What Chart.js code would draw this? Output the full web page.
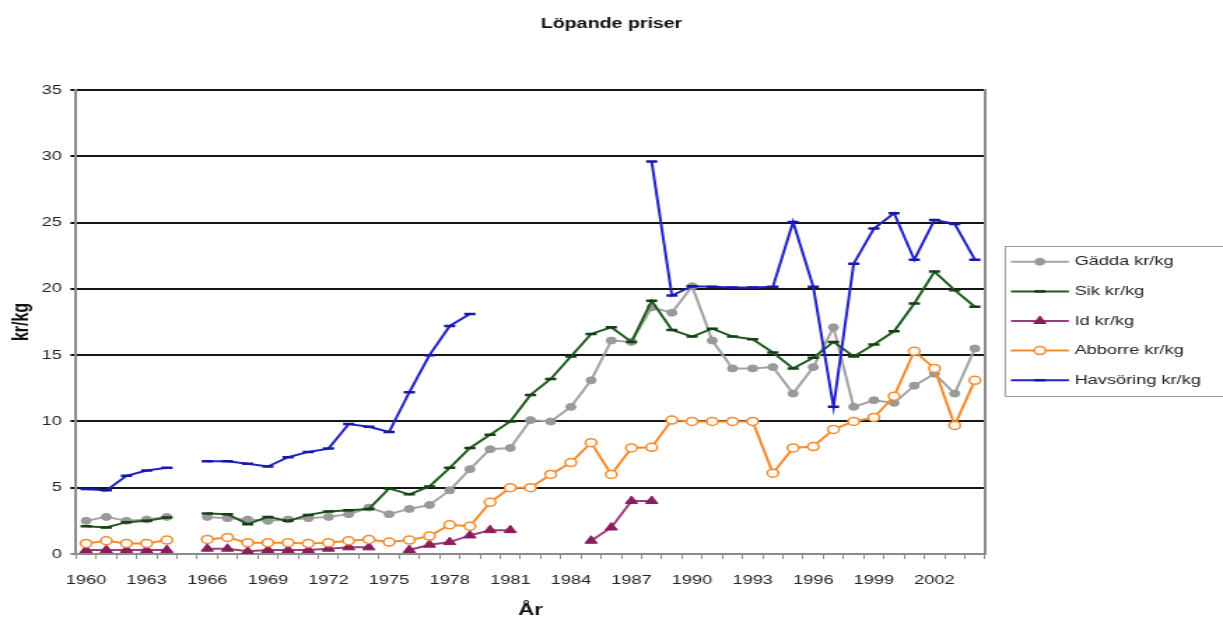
<!DOCTYPE html>
<html lang="sv">
<head>
<meta charset="utf-8">
<title>Löpande priser</title>
<script src="https://cdn.jsdelivr.net/npm/chart.js@4/dist/chart.umd.min.js"></script>
<style>
  html, body { margin: 0; padding: 0; background: #fff; overflow: hidden; }
  /* the chart is laid out narrow and widened horizontally */
  #wrap { width: 874px; height: 621px; transform: scaleX(1.39931); transform-origin: 0 0; }
  canvas { display: block; }
</style>
</head>
<body>
<div id="wrap"><canvas id="c" width="874" height="621"></canvas></div>
<script>
// Years (categories)
const years = ['1960','1961','1962','1963','1964','1965','1966','1967','1968','1969',
               '1970','1971','1972','1973','1974','1975','1976','1977','1978','1979',
               '1980','1981','1982','1983','1984','1985','1986','1987','1988','1989',
               '1990','1991','1992','1993','1994','1995','1996','1997','1998','1999',
               '2000','2001','2002','2003','2004'];

// Years printed under the x axis
const shownYears = ['1960','1963','1966','1969','1972','1975','1978','1981',
                    '1984','1987','1990','1993','1996','1999','2002'];

// Prices, kr/kg (null = no value that year)
const gadda = [2.5, 2.8, 2.5, 2.6, 2.8, null, 2.8, 2.7, 2.6, 2.5,
               2.6, 2.7, 2.8, 3.0, 3.5, 3.0, 3.4, 3.7, 4.8, 6.4,
               7.9, 8.0, 10.1, 10.0, 11.1, 13.1, 16.1, 16.0, 18.6, 18.2,
               20.2, 16.1, 14.0, 14.0, 14.1, 12.1, 14.1, 17.1, 11.1, 11.6,
               11.4, 12.7, 13.6, 12.1, 15.5];

const sik = [2.1, 2.0, 2.4, 2.5, 2.75, null, 3.05, 3.0, 2.25, 2.8,
             2.5, 2.95, 3.2, 3.3, 3.4, 4.95, 4.5, 5.1, 6.5, 8.0,
             9.0, 10.0, 12.0, 13.2, 14.9, 16.6, 17.1, 16.0, 19.1, 16.9,
             16.4, 17.0, 16.4, 16.2, 15.2, 14.0, 14.8, 16.0, 14.9, 15.8,
             16.8, 18.9, 21.3, 19.9, 18.65];

const id = [0.3, 0.3, 0.3, 0.3, 0.3, null, 0.4, 0.4, 0.2, 0.3,
            0.3, 0.3, 0.4, 0.5, 0.5, null, 0.3, 0.7, 0.9, 1.4,
            1.8, 1.8, null, null, null, 1.0, 2.0, 4.0, 4.0, null,
            null, null, null, null, null, null, null, null, null, null,
            null, null, null, null, null];

const abborre = [0.8, 1.0, 0.8, 0.8, 1.05, null, 1.1, 1.25, 0.85, 0.85,
                 0.85, 0.8, 0.85, 1.0, 1.1, 0.9, 1.05, 1.35, 2.2, 2.1,
                 3.9, 5.0, 5.0, 6.0, 6.9, 8.4, 6.0, 8.0, 8.05, 10.1,
                 10.0, 10.0, 10.0, 10.0, 6.1, 8.0, 8.1, 9.4, 10.0, 10.3,
                 11.9, 15.3, 14.0, 9.7, 13.1];

const havsoring = [4.9, 4.8, 5.9, 6.3, 6.5, null, 7.0, 7.0, 6.8, 6.6,
                   7.3, 7.7, 7.95, 9.8, 9.6, 9.2, 12.2, 15.0, 17.2, 18.1,
                   null, null, null, null, null, null, null, null, 29.6, 19.5,
                   20.2, 20.15, 20.1, 20.1, 20.15, 25.05, 20.15, 11.1, 21.9, 24.55,
                   25.7, 22.2, 25.2, 24.9, 22.2];

const FONT = '"Liberation Sans", Arial, Helvetica, sans-serif';
Chart.defaults.font.family = FONT;
Chart.defaults.font.size = 13;
Chart.defaults.color = '#222';

function drawMarker(ctx, ds, x, y) {
  const opts = { pointStyle: ds.pointStyle, radius: ds.pointRadius, borderWidth: ds.pointBorderWidth, rotation: 0 };
  if (Chart.helpers && Chart.helpers.drawPoint) {
    Chart.helpers.drawPoint(ctx, opts, x, y);
    return;
  }
  const r = ds.pointRadius;
  ctx.beginPath();
  if (ds.pointStyle === 'line') {
    ctx.moveTo(x - r, y); ctx.lineTo(x + r, y); ctx.stroke(); return;
  } else if (ds.pointStyle === 'triangle') {
    ctx.moveTo(x, y - r); ctx.lineTo(x + r * 0.866, y + r / 2); ctx.lineTo(x - r * 0.866, y + r / 2); ctx.closePath();
  } else {
    ctx.arc(x, y, r, 0, Math.PI * 2);
  }
  ctx.fill(); ctx.stroke();
}

// boxed legend to the right of the plot
const legendBox = {
  id: 'legendBox',
  afterDraw(chart) {
    const { ctx, chartArea: a } = chart;
    const left = a.right + 14;
    const rowH = 29.6;
    const n = chart.data.datasets.length;
    const midY = (a.top + a.bottom) / 2 - 1;
    const boxH = 150;
    const top = midY - boxH / 2;
    const firstY = midY - rowH * (n - 1) / 2;
    ctx.save();
    ctx.strokeStyle = '#9a9a9a';
    ctx.lineWidth = 1;
    ctx.strokeRect(left + 0.5, top + 0.5, chart.width - left + 20, boxH);
    chart.data.datasets.forEach((ds, i) => {
      const y = firstY + i * rowH;
      const x0 = left + 4.5, x1 = left + 46;
      ctx.strokeStyle = ds.borderColor;
      ctx.lineWidth = ds.borderWidth;
      ctx.beginPath(); ctx.moveTo(x0, y); ctx.lineTo(x1, y); ctx.stroke();
      ctx.fillStyle = ds.pointBackgroundColor;
      ctx.strokeStyle = ds.pointBorderColor;
      ctx.lineWidth = ds.pointBorderWidth;
      drawMarker(ctx, ds, (x0 + x1) / 2, y);
      ctx.fillStyle = '#222';
      ctx.font = '13px ' + FONT;
      ctx.textAlign = 'left';
      ctx.textBaseline = 'middle';
      ctx.fillText(ds.label, left + 50, y);
    });
    ctx.restore();
  }
};

function series(label, data, color, style, order) {
  return Object.assign({
    label, data,
    borderColor: color,
    borderWidth: 2,
    backgroundColor: color,
    spanGaps: false,
    tension: 0,
    order
  }, style);
}

new Chart(document.getElementById('c'), {
  type: 'line',
  data: {
    labels: years,
    datasets: [
      series('Gädda kr/kg', gadda, '#a3a3a3',
        { pointStyle: 'circle', pointRadius: 3.5, pointBackgroundColor: '#999999', pointBorderColor: '#999999', pointBorderWidth: 1 }, 5),
      series('Sik kr/kg', sik, '#1f5c1f',
        { pointStyle: 'line', pointRadius: 4, pointBackgroundColor: '#1f5c1f', pointBorderColor: '#163f16', pointBorderWidth: 2.5 }, 4),
      series('Id kr/kg', id, '#9b3f7b',
        { pointStyle: 'triangle', pointRadius: 5, pointBackgroundColor: '#8a1d5e', pointBorderColor: '#8a1d5e', pointBorderWidth: 1 }, 3),
      series('Abborre kr/kg', abborre, '#f58a2e',
        { pointStyle: 'circle', pointRadius: 4, pointBackgroundColor: '#ffffff', pointBorderColor: '#f58a2e', pointBorderWidth: 1.5 }, 2),
      series('Havsöring kr/kg', havsoring, '#2222c8',
        { pointStyle: 'line', pointRadius: 4, pointBackgroundColor: '#1818a8', pointBorderColor: '#1818a8', pointBorderWidth: 2.5 }, 1)
    ]
  },
  options: {
    responsive: false,
    animation: false,
    devicePixelRatio: 1,
    layout: { padding: { left: 0, right: 0, top: 0, bottom: 0 } },
    plugins: {
      legend: { display: false },
      tooltip: { enabled: false },
      title: {
        display: true,
        text: 'Löpande priser',
        color: '#111',
        font: { size: 14, weight: 'bold' },
        padding: { top: 16, bottom: 57.2 }
      }
    },
    scales: {
      x: {
        type: 'category',
        offset: true,
        grid: { display: true, drawOnChartArea: false, drawTicks: true, tickLength: 5, offset: true, color: '#8c8c8c', lineWidth: 1 },
        border: { display: true, color: '#8c8c8c', width: 2 },
        ticks: {
          autoSkip: false,
          maxRotation: 0,
          padding: 14,
          color: '#222',
          callback(value, index) {
            const y = years[index];
            return shownYears.includes(y) ? y : '';
          }
        },
        title: { display: true, text: 'År', font: { size: 16, weight: 'bold' }, color: '#111', padding: { top: 0, bottom: 1 } },
        afterFit(scale) { scale.height = 67; }
      },
      y: {
        min: 0,
        max: 35,
        grid: {
          color: ctx => (ctx.tick && ctx.tick.value === 0 ? '#8c8c8c' : '#151515'),
          lineWidth: 2,
          drawTicks: true,
          tickLength: 4
        },
        border: { display: true, color: '#8c8c8c', width: 2 },
        ticks: { stepSize: 5, padding: 6, color: '#222' },
        title: { display: true, text: 'kr/kg', font: { size: 16, weight: 'bold' }, color: '#111', padding: { top: 6, bottom: 0 } },
        afterFit(scale) { scale.width = 54.3; }
      },
      // right frame of the plot; its width leaves room for the legend
      yFrame: {
        position: 'right',
        min: 0,
        max: 35,
        grid: { drawOnChartArea: false, drawTicks: false },
        border: { display: true, color: '#8c8c8c', width: 2 },
        ticks: { display: false },
        afterFit(scale) { scale.width = 170.1; }
      }
    }
  },
  plugins: [legendBox]
});
</script>
</body>
</html>
